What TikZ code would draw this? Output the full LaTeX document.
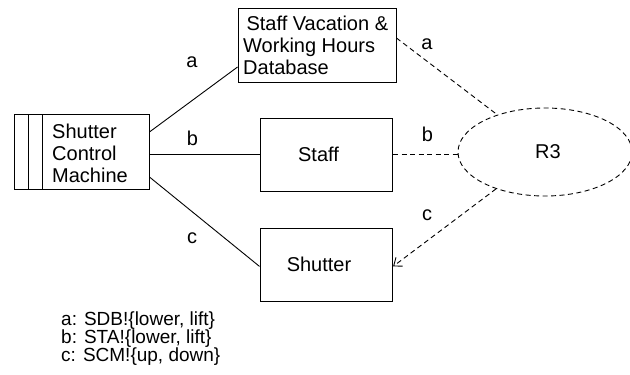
\documentclass[tikz,border=0pt]{standalone}
\usepackage{fontspec}
\setmainfont{Liberation Sans}
\usetikzlibrary{shapes.geometric,arrows.meta,calc}
\tikzset{
  box/.style={draw, line width=0.9pt, rectangle, inner sep=0pt},
  conn/.style={line width=0.9pt},
  dconn/.style={line width=0.9pt, dash pattern=on 5pt off 3.5pt},
  lbl/.style={inner sep=0pt, font=\fontsize{20}{22}\selectfont},
  txt/.style={inner sep=0pt, align=left, font=\fontsize{20}{22}\selectfont},
}
\begin{document}
\begin{tikzpicture}[x=1pt,y=-1pt]
\useasboundingbox (0,0) rectangle (630,375);
% boxes
\node[box, minimum width=135pt, minimum height=75pt] (machine) at (81.5,151.5) {};
\draw[conn] (28,114) -- (28,189);
\draw[conn] (42,114) -- (42,189);
\node[txt, anchor=west] (machinetxt) at (52,153) {Shutter\\Control\\Machine};
\node[box, minimum width=158pt, minimum height=74pt] (db) at (317,45) {};
\node[txt, anchor=west] (dbtxt) at (243,45.5) {\,Staff Vacation \&\\Working Hours\\Database};
\node[box, minimum width=132.7pt, minimum height=72.7pt] (staff) at (326.3,154.7) {};
\node[txt] (stafftxt) at (318.5,154.7) {Staff};
\node[box, minimum width=132.7pt, minimum height=72.7pt] (shutter) at (326.3,264.7) {};
\node[txt] (shuttertxt) at (319,264.7) {Shutter};
\node[draw, ellipse, dconn, minimum width=174pt, minimum height=88pt, inner sep=0pt] (r3) at (545,152) {};
\node[txt] (r3txt) at (548,151.5) {R3};
% solid connectors
\draw[conn] ([yshift=19.5pt]machine.east) -- ([yshift=-22pt]db.west);
\draw[conn] (staff.west -| machine.east) -- (staff.west);
\draw[conn] ([yshift=-25.5pt]machine.east) -- ([yshift=-1.7pt]shutter.west);
% dashed connectors
\draw[dconn] ([yshift=7pt]db.east) -- (r3.142);
\draw[dconn] (staff.east) -- (staff.east -| r3.west);
\draw[dconn, -{Straight Barb[length=7pt,width=11pt,line width=0.9pt]}] (r3.217) -- ([yshift=-1.7pt]shutter.east);
% labels
\node[lbl] (la) at (192,62) {a};
\node[lbl] (lb) at (192.5,138) {b};
\node[lbl] (lc) at (192,238) {c};
\node[lbl] (ra) at (427,44) {a};
\node[lbl] (rb) at (427.5,134) {b};
\node[lbl] (rc) at (427,215.5) {c};
% legend
\node[inner sep=0pt, align=left, anchor=base west, font=\fontsize{19}{18}\selectfont] (legend) at (61,361) {a: SDB!\{lower, lift\}\\b: STA!\{lower, lift\}\\c: SCM!\{up, down\}};
\end{tikzpicture}
\end{document}
